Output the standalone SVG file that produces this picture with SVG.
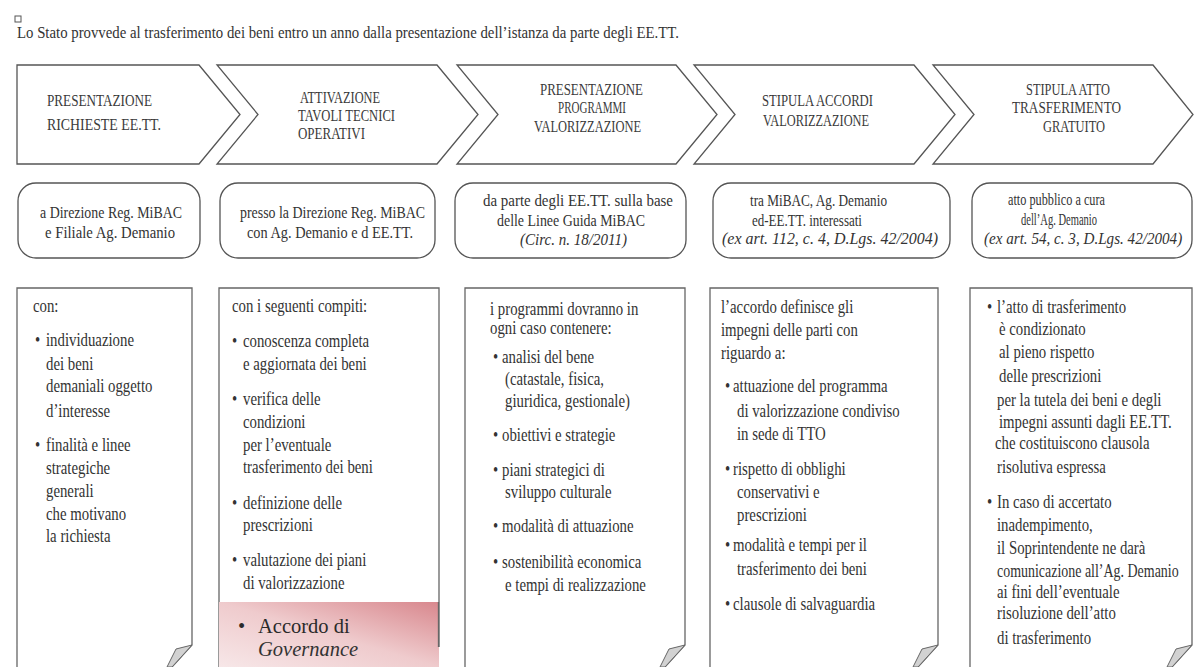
<svg xmlns="http://www.w3.org/2000/svg" width="1195" height="667" viewBox="0 0 1195 667">
<defs>
<style>
.bg{fill:#ffffff}
.chev{fill:#ffffff;stroke:#555;stroke-width:1.3;stroke-linejoin:miter}
.box{fill:#ffffff;stroke:#555;stroke-width:1.3}
.panel{fill:#ffffff;stroke:#666;stroke-width:1.3}
.fold{fill:#d2d2d2;stroke:#666;stroke-width:1}
.ct{font-family:"Liberation Serif",serif;font-size:16px;fill:#3a3a3a}
.bt{font-family:"Liberation Serif",serif;font-size:17.5px;fill:#333}
.bi{font-family:"Liberation Serif",serif;font-size:17px;font-style:italic;fill:#333}
.pt{font-family:"Liberation Serif",serif;font-size:19px;fill:#333}
.title{font-family:"Liberation Serif",serif;font-size:17px;fill:#333}
.big{font-family:"Liberation Serif",serif;font-size:20.5px;fill:#2a2a2a}
.bigi{font-family:"Liberation Serif",serif;font-size:20.5px;font-style:italic;fill:#333}
</style>
<linearGradient id="pinkGrad" x1="0" y1="1" x2="1" y2="0">
<stop offset="0" stop-color="#f7e7e8"/>
<stop offset="0.5" stop-color="#efcbcd"/>
<stop offset="1" stop-color="#d8878d"/>
</linearGradient>
<path id="foldShape" class="fold" d="M0,0 L-16,4 L-25,22 L-20,22 Z"/>
</defs>
<rect class="bg" x="0" y="0" width="1195" height="667"/>

<g id="header">
<rect x="15" y="16" width="6" height="6" fill="#fff" stroke="#555" stroke-width="1"/>
<text class="title" x="17" y="38" textLength="662" lengthAdjust="spacingAndGlyphs">Lo Stato provvede al trasferimento dei beni entro un anno dalla presentazione dell’istanza da parte degli EE.TT.</text>
</g>

<g id="step1">
<path class="chev" d="M17,65 H199 L240,114.5 L199,164 H17 Z"/>
<text class="ct" x="47" y="106" textLength="105" lengthAdjust="spacingAndGlyphs">PRESENTAZIONE</text>
<text class="ct" x="47" y="130" textLength="114" lengthAdjust="spacingAndGlyphs">RICHIESTE  EE.TT.</text>
</g>
<g id="step2">
<path class="chev" d="M217,65 H437 L478,114.5 L437,164 H217 L258,114.5 Z"/>
<text class="ct" x="300" y="103" textLength="80" lengthAdjust="spacingAndGlyphs">ATTIVAZIONE</text>
<text class="ct" x="298" y="121" textLength="97" lengthAdjust="spacingAndGlyphs">TAVOLI TECNICI</text>
<text class="ct" x="298" y="139" textLength="67" lengthAdjust="spacingAndGlyphs">OPERATIVI</text>
</g>
<g id="step3">
<path class="chev" d="M457,65 H676 L717,114.5 L676,164 H457 L498,114.5 Z"/>
<text class="ct" x="540" y="95" textLength="103" lengthAdjust="spacingAndGlyphs">PRESENTAZIONE</text>
<text class="ct" x="558" y="113" textLength="68" lengthAdjust="spacingAndGlyphs">PROGRAMMI</text>
<text class="ct" x="534" y="132" textLength="107" lengthAdjust="spacingAndGlyphs">VALORIZZAZIONE</text>
</g>
<g id="step4">
<path class="chev" d="M694,65 H914 L955,114.5 L914,164 H694 L735,114.5 Z"/>
<text class="ct" x="762" y="106" textLength="111" lengthAdjust="spacingAndGlyphs">STIPULA ACCORDI</text>
<text class="ct" x="763" y="126" textLength="106" lengthAdjust="spacingAndGlyphs">VALORIZZAZIONE</text>
</g>
<g id="step5">
<path class="chev" d="M933,65 H1153 L1193,114.5 L1153,164 H933 L974,114.5 Z"/>
<text class="ct" x="1026" y="95" textLength="84" lengthAdjust="spacingAndGlyphs">STIPULA ATTO</text>
<text class="ct" x="1012" y="113" textLength="109" lengthAdjust="spacingAndGlyphs">TRASFERIMENTO</text>
<text class="ct" x="1043" y="132" textLength="62" lengthAdjust="spacingAndGlyphs">GRATUITO</text>
</g>

<g id="where1">
<rect class="box" x="18" y="183" width="182" height="75" rx="18"/>
<text class="bt" x="40" y="218" textLength="142" lengthAdjust="spacingAndGlyphs">a Direzione Reg. MiBAC</text>
<text class="bt" x="45" y="238" textLength="130" lengthAdjust="spacingAndGlyphs">e Filiale  Ag. Demanio</text>
</g>
<g id="where2">
<rect class="box" x="220" y="183" width="215" height="75" rx="18"/>
<text class="bt" x="240" y="218" textLength="185" lengthAdjust="spacingAndGlyphs">presso la Direzione Reg. MiBAC</text>
<text class="bt" x="247" y="238" textLength="166" lengthAdjust="spacingAndGlyphs">con Ag. Demanio e d EE.TT.</text>
</g>
<g id="where3">
<rect class="box" x="455" y="183" width="231" height="75" rx="18"/>
<text class="bt" x="483" y="206" textLength="190" lengthAdjust="spacingAndGlyphs">da parte degli EE.TT. sulla base</text>
<text class="bt" x="497" y="226" textLength="148" lengthAdjust="spacingAndGlyphs">delle Linee Guida MiBAC</text>
<text class="bi" x="520" y="245" textLength="107" lengthAdjust="spacingAndGlyphs">(Circ. n. 18/2011)</text>
</g>
<g id="where4">
<rect class="box" x="713" y="183" width="237" height="75" rx="18"/>
<text class="bt" x="750" y="206" textLength="137" lengthAdjust="spacingAndGlyphs">tra MiBAC, Ag. Demanio</text>
<text class="bt" x="752" y="226" textLength="110" lengthAdjust="spacingAndGlyphs">ed-EE.TT. interessati</text>
<text class="bi" transform="translate(722,244) scale(0.94,1)">(ex art. 112, c. 4, D.Lgs. 42/2004)</text>
</g>
<g id="where5">
<rect class="box" x="972" y="183" width="220" height="75" rx="18"/>
<text class="bt" x="1008" y="205" textLength="97" lengthAdjust="spacingAndGlyphs">atto pubblico a cura</text>
<text class="bt" x="1021" y="225" textLength="76" lengthAdjust="spacingAndGlyphs">dell’Ag. Demanio</text>
<text class="bi" transform="translate(984,244) scale(0.89,1)">(ex art. 54, c. 3, D.Lgs. 42/2004)</text>
</g>

<g id="detail1">
<path class="panel" d="M17,667 V288 H192 V645 L172,667"/>
<use href="#foldShape" x="192" y="645"/>
<text class="pt" transform="translate(33,312) scale(0.78,1)">con:</text>
<text class="pt" transform="translate(35,346) scale(0.78,1)">•</text>
<text class="pt" transform="translate(46,346) scale(0.78,1)">individuazione</text>
<text class="pt" transform="translate(46,370) scale(0.78,1)">dei beni</text>
<text class="pt" transform="translate(46,392) scale(0.78,1)">demaniali oggetto</text>
<text class="pt" transform="translate(46,417) scale(0.78,1)">d’interesse</text>
<text class="pt" transform="translate(35,451) scale(0.78,1)">•</text>
<text class="pt" transform="translate(46,451) scale(0.78,1)">finalità e linee</text>
<text class="pt" transform="translate(46,474) scale(0.78,1)">strategiche</text>
<text class="pt" transform="translate(46,497) scale(0.78,1)">generali</text>
<text class="pt" transform="translate(46,520) scale(0.78,1)">che motivano</text>
<text class="pt" transform="translate(46,542) scale(0.78,1)">la richiesta</text>
</g>

<g id="detail2">
<path class="panel" d="M219,667 V288 H439 V647"/>
<text class="pt" transform="translate(232,312) scale(0.78,1)">con i seguenti compiti:</text>
<text class="pt" transform="translate(232,347) scale(0.78,1)">•</text>
<text class="pt" transform="translate(243,347) scale(0.78,1)">conoscenza completa</text>
<text class="pt" transform="translate(243,370) scale(0.78,1)">e aggiornata dei beni</text>
<text class="pt" transform="translate(232,405) scale(0.78,1)">•</text>
<text class="pt" transform="translate(243,405) scale(0.78,1)">verifica delle</text>
<text class="pt" transform="translate(243,428) scale(0.78,1)">condizioni</text>
<text class="pt" transform="translate(243,451) scale(0.78,1)">per l’eventuale</text>
<text class="pt" transform="translate(243,473) scale(0.78,1)">trasferimento dei beni</text>
<text class="pt" transform="translate(232,509) scale(0.78,1)">•</text>
<text class="pt" transform="translate(243,509) scale(0.78,1)">definizione delle</text>
<text class="pt" transform="translate(243,531) scale(0.78,1)">prescrizioni</text>
<text class="pt" transform="translate(232,566) scale(0.78,1)">•</text>
<text class="pt" transform="translate(243,566) scale(0.78,1)">valutazione dei piani</text>
<text class="pt" transform="translate(243,589) scale(0.78,1)">di valorizzazione</text>
<rect x="219" y="602" width="220" height="65" fill="url(#pinkGrad)"/>
<line x1="438.5" y1="602" x2="438.5" y2="647" stroke="#666" stroke-width="1.3"/>
<text class="big" x="238" y="633">•</text>
<text class="big" x="258" y="633">Accordo di</text>
<text class="bigi" x="258" y="656">Governance</text>
</g>

<g id="detail3">
<path class="panel" d="M465,667 V288 H685 V645 L665,667"/>
<use href="#foldShape" x="685" y="645"/>
<text class="pt" transform="translate(490,315) scale(0.78,1)">i programmi dovranno in</text>
<text class="pt" transform="translate(490,334) scale(0.78,1)">ogni caso contenere:</text>
<text class="pt" transform="translate(493,363) scale(0.78,1)">•</text>
<text class="pt" transform="translate(502,363) scale(0.78,1)">analisi del bene</text>
<text class="pt" transform="translate(505,385) scale(0.78,1)">(catastale, fisica,</text>
<text class="pt" transform="translate(505,407) scale(0.78,1)">giuridica, gestionale)</text>
<text class="pt" transform="translate(493,441) scale(0.78,1)">•</text>
<text class="pt" transform="translate(502,441) scale(0.78,1)">obiettivi e strategie</text>
<text class="pt" transform="translate(493,476) scale(0.78,1)">•</text>
<text class="pt" transform="translate(502,476) scale(0.78,1)">piani strategici di</text>
<text class="pt" transform="translate(505,498) scale(0.78,1)">sviluppo culturale</text>
<text class="pt" transform="translate(493,532) scale(0.78,1)">•</text>
<text class="pt" transform="translate(502,532) scale(0.78,1)">modalità di attuazione</text>
<text class="pt" transform="translate(493,568) scale(0.78,1)">•</text>
<text class="pt" transform="translate(502,568) scale(0.78,1)">sostenibilità economica</text>
<text class="pt" transform="translate(505,591) scale(0.78,1)">e tempi di realizzazione</text>
</g>

<g id="detail4">
<path class="panel" d="M710,667 V288 H938 V645 L918,667"/>
<use href="#foldShape" x="938" y="645"/>
<text class="pt" transform="translate(721,313) scale(0.78,1)">l’accordo definisce gli</text>
<text class="pt" transform="translate(721,336) scale(0.78,1)">impegni delle parti con</text>
<text class="pt" transform="translate(721,359) scale(0.78,1)">riguardo a:</text>
<text class="pt" transform="translate(725,392) scale(0.78,1)">•</text>
<text class="pt" transform="translate(733,392) scale(0.78,1)">attuazione del programma</text>
<text class="pt" transform="translate(737,417) scale(0.78,1)">di valorizzazione condiviso</text>
<text class="pt" transform="translate(737,440) scale(0.78,1)">in sede di TTO</text>
<text class="pt" transform="translate(725,475) scale(0.78,1)">•</text>
<text class="pt" transform="translate(733,475) scale(0.78,1)">rispetto  di obblighi</text>
<text class="pt" transform="translate(737,498) scale(0.78,1)">conservativi e</text>
<text class="pt" transform="translate(737,521) scale(0.78,1)">prescrizioni</text>
<text class="pt" transform="translate(725,551) scale(0.78,1)">•</text>
<text class="pt" transform="translate(733,551) scale(0.78,1)">modalità  e tempi per il</text>
<text class="pt" transform="translate(737,575) scale(0.78,1)">trasferimento dei beni</text>
<text class="pt" transform="translate(725,610) scale(0.78,1)">•</text>
<text class="pt" transform="translate(733,610) scale(0.78,1)">clausole di salvaguardia</text>
</g>

<g id="detail5">
<path class="panel" d="M970,667 V288 H1192 V645 L1172,667"/>
<use href="#foldShape" x="1192" y="645"/>
<text class="pt" transform="translate(987,313) scale(0.78,1)">•</text>
<text class="pt" transform="translate(997,313) scale(0.78,1)">l’atto di trasferimento</text>
<text class="pt" transform="translate(999,335) scale(0.78,1)">è condizionato</text>
<text class="pt" transform="translate(999,358) scale(0.78,1)">al pieno rispetto</text>
<text class="pt" transform="translate(999,382) scale(0.78,1)">delle prescrizioni</text>
<text class="pt" transform="translate(997,406) scale(0.78,1)">per la tutela dei beni e degli</text>
<text class="pt" transform="translate(999,428) scale(0.78,1)">impegni assunti dagli EE.TT.</text>
<text class="pt" transform="translate(995,449) scale(0.78,1)">che costituiscono clausola</text>
<text class="pt" transform="translate(997,473) scale(0.78,1)">risolutiva espressa</text>
<text class="pt" transform="translate(987,508) scale(0.78,1)">•</text>
<text class="pt" transform="translate(997,508) scale(0.78,1)">In caso di accertato</text>
<text class="pt" transform="translate(997,531) scale(0.78,1)">inadempimento,</text>
<text class="pt" transform="translate(997,554) scale(0.78,1)">il Soprintendente  ne darà</text>
<text class="pt" transform="translate(997,577) scale(0.735,1)">comunicazione all’Ag. Demanio</text>
<text class="pt" transform="translate(997,598) scale(0.78,1)">ai fini dell’eventuale</text>
<text class="pt" transform="translate(997,619) scale(0.78,1)">risoluzione dell’atto</text>
<text class="pt" transform="translate(997,644) scale(0.78,1)">di trasferimento</text>
</g>

<g id="connectors"/>
</svg>
